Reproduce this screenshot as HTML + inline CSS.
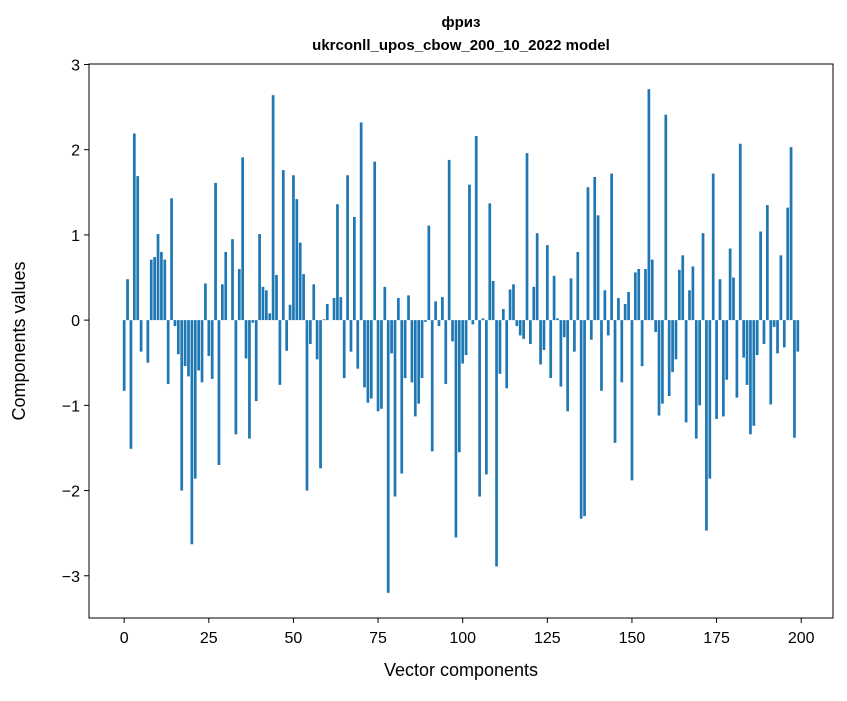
<!DOCTYPE html>
<html><head><meta charset="utf-8"><style>
body{margin:0;background:#fff;}
svg text{font-family:"Liberation Sans","DejaVu Sans",sans-serif;fill:#000;}
</style></head><body>
<svg id="chart" width="847" height="696" xmlns="http://www.w3.org/2000/svg">
<rect width="847" height="696" fill="#fff"/>
<text x="461" y="27" text-anchor="middle" font-size="15" font-weight="bold">фриз</text>
<text x="461" y="50" text-anchor="middle" font-size="15" font-weight="bold">ukrconll_upos_cbow_200_10_2022 model</text>
<g id="bars"></g>
<g id="axes"></g>
<text x="461" y="676" text-anchor="middle" font-size="18">Vector components</text>
<text transform="translate(25,341) rotate(-90)" text-anchor="middle" font-size="18">Components values</text>
</svg>
<script>
const values = [-0.83,0.48,-1.51,2.19,1.69,-0.37,0,-0.5,0.71,0.74,1.01,0.80,0.71,-0.75,1.43,-0.07,-0.40,-2.0,-0.54,-0.66,-2.63,-1.86,-0.59,-0.73,0.43,
-0.42,-0.69,1.61,-1.70,0.42,0.80,0,0.95,-1.34,0.60,1.91,-0.45,-1.39,-0.03,-0.95,1.01,0.39,0.35,0.08,2.64,0.53,-0.76,1.76,-0.36,0.18,
1.70,1.42,0.91,0.54,-2.0,-0.28,0.42,-0.46,-1.74,0.01,0.19,0,0.26,1.36,0.27,-0.68,1.70,-0.37,1.21,-0.57,2.32,-0.79,-0.97,-0.92,1.86,
-1.07,-1.04,0.39,-3.20,-0.39,-2.07,0.26,-1.80,-0.68,0.29,-0.73,-1.13,-0.98,-0.68,-0.02,1.11,-1.54,0.22,-0.07,0.27,-0.75,1.88,-0.25,-2.55,-1.55,
-0.51,-0.41,1.59,-0.05,2.16,-2.07,0.02,-1.81,1.37,0.46,-2.89,-0.63,0.13,-0.80,0.36,0.42,-0.07,-0.18,-0.22,1.96,-0.28,0.39,1.02,-0.52,-0.35,
0.88,-0.68,0.52,0.02,-0.78,-0.20,-1.07,0.49,-0.37,0.80,-2.33,-2.30,1.56,-0.23,1.68,1.23,-0.83,0.35,-0.18,1.72,-1.44,0.26,-0.73,0.19,0.33,
-1.88,0.56,0.60,-0.54,0.60,2.71,0.71,-0.14,-1.12,-0.98,2.41,-0.89,-0.61,-0.46,0.59,0.76,-1.20,0.35,0.63,-1.39,-1.00,1.02,-2.47,-1.86,1.72,
-1.16,0.48,-1.13,-0.70,0.84,0.50,-0.91,2.07,-0.44,-0.76,-1.34,-1.24,-0.41,1.04,-0.28,1.35,-0.99,-0.08,-0.39,0.76,-0.32,1.32,2.03,-1.38,-0.37];
const xTicks = [0,25,50,75,100,125,150,175,200];
const yTicks = [-3,-2,-1,0,1,2,3];
const yTickLabels = ["\u22123","\u22122","\u22121","0","1","2","3"];

const L=89,R=833,T=64,B=618;
let vmin=Math.min(...values,0),vmax=Math.max(...values,0);
const xmin=-0.4-0.05*(values.length-0.2),xmax=values.length-1+0.4+0.05*(values.length-0.2);
const ym=(vmax-vmin)*0.05, ymin=vmin-ym, ymax=vmax+ym;
const sx=v=>L+(v-xmin)/(xmax-xmin)*(R-L);
const sy=v=>B-(v-ymin)/(ymax-ymin)*(B-T);
const NS="http://www.w3.org/2000/svg";
const bars=document.getElementById('bars'), axes=document.getElementById('axes');
values.forEach((v,i)=>{
  const r=document.createElementNS(NS,'rect');
  const x0=sx(i-0.4),x1=sx(i+0.4),y0=sy(Math.max(v,0)),y1=sy(Math.min(v,0));
  r.setAttribute('x',x0);r.setAttribute('width',x1-x0);
  r.setAttribute('y',y0);r.setAttribute('height',Math.max(y1-y0,0));
  r.setAttribute('fill','#1f77b4');
  
  
  bars.appendChild(r);
});
const frame=document.createElementNS(NS,'rect');
frame.setAttribute('x',L);frame.setAttribute('y',T);frame.setAttribute('width',R-L);frame.setAttribute('height',B-T);
frame.setAttribute('fill','none');frame.setAttribute('stroke','#000');frame.setAttribute('stroke-width','1');


axes.appendChild(frame);
xTicks.forEach(t=>{
  const x=sx(t);
  const l=document.createElementNS(NS,'line');
  l.setAttribute('x1',x);l.setAttribute('x2',x);l.setAttribute('y1',B);l.setAttribute('y2',B+5);l.setAttribute('stroke','#000');
  
  
  axes.appendChild(l);
  const tx=document.createElementNS(NS,'text');
  tx.setAttribute('x',x);tx.setAttribute('y',B+25);tx.setAttribute('text-anchor','middle');tx.setAttribute('font-size','16');
  tx.textContent=t;
  
  
  axes.appendChild(tx);
});
yTicks.forEach((t,i)=>{
  const y=sy(t);
  const l=document.createElementNS(NS,'line');
  l.setAttribute('x1',L-5);l.setAttribute('x2',L);l.setAttribute('y1',y);l.setAttribute('y2',y);l.setAttribute('stroke','#000');
  
  
  axes.appendChild(l);
  const tx=document.createElementNS(NS,'text');
  tx.setAttribute('x',L-9);tx.setAttribute('y',y+6);tx.setAttribute('text-anchor','end');tx.setAttribute('font-size','16');
  tx.textContent=yTickLabels[i];
  
  
  axes.appendChild(tx);
});
</script>
</body></html>
